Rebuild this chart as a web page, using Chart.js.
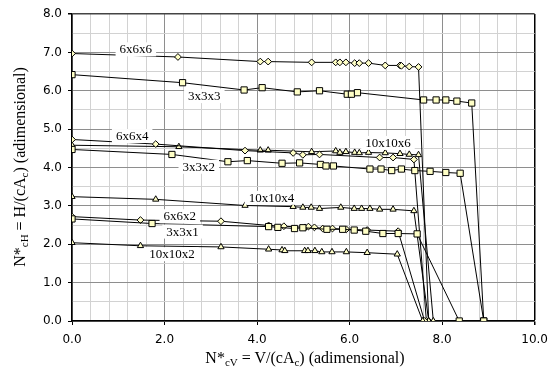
<!DOCTYPE html>
<html>
<head>
<meta charset="utf-8">
<script src="https://cdn.jsdelivr.net/npm/chart.js@4/dist/chart.umd.min.js"></script>
<style>
  html, body { margin: 0; padding: 0; background: #fff; }
  #wrap { position: relative; width: 556px; height: 375px; overflow: hidden; }
  #c { position: absolute; left: 0; top: 0; }
  .ttl { position: absolute; font-family: "Liberation Serif", "Times New Roman", serif; font-size: 16px; color: #000; white-space: nowrap; text-align: center; line-height: 18px; }
  .ttl sub { font-size: 11px; vertical-align: -3px; line-height: 0; }
  #xt { left: 72px; width: 466px; top: 349px; }
  #yt { left: -130px; width: 300px; top: 158px; height: 18px; transform: rotate(-90deg); }
</style>
</head>
<body>
<div id="wrap">
  <canvas id="c" width="556" height="375"></canvas>
  <div class="ttl" id="xt">N*<sub>cV</sub> = V/(cA<sub>c</sub>) (adimensional)</div>
  <div class="ttl" id="yt">N*<sub>cH</sub> = H/(cA<sub>c</sub>) (adimensional)</div>
</div>
<script>
// ---- data ----
const s666x = [0, 2.29, 4.07, 4.24, 5.18, 5.70, 5.79, 5.92, 6.11, 6.21, 6.41, 6.77, 7.09, 7.12, 7.29, 7.49, 7.71];
const s666y = [6.97, 6.88, 6.76, 6.76, 6.74, 6.74, 6.74, 6.74, 6.72, 6.72, 6.72, 6.66, 6.66, 6.65, 6.63, 6.62, 0];

const s333x = [0, 2.39, 3.72, 4.11, 4.87, 5.35, 5.95, 6.04, 6.17, 7.60, 7.87, 8.08, 8.32, 8.64, 8.90];
const s333y = [6.42, 6.21, 6.02, 6.08, 5.97, 6.00, 5.91, 5.91, 5.95, 5.76, 5.76, 5.76, 5.73, 5.68, 0];

const s664x = [0, 1.81, 3.74, 4.78, 4.99, 5.35, 6.65, 6.94, 7.39, 7.66];
const s664y = [4.73, 4.61, 4.44, 4.38, 4.33, 4.34, 4.26, 4.26, 4.21, 0];

const s1066x = [0, 2.31, 4.07, 4.24, 5.18, 5.70, 5.79, 5.92, 6.11, 6.21, 6.41, 6.77, 7.09, 7.29, 7.49, 7.81];
const s1066y = [4.58, 4.54, 4.45, 4.45, 4.41, 4.43, 4.39, 4.41, 4.39, 4.38, 4.39, 4.38, 4.36, 4.34, 4.33, 0];

const s332x = [0, 2.16, 3.37, 3.79, 4.54, 4.92, 5.37, 5.49, 5.65, 6.44, 6.68, 6.91, 7.12, 7.41, 7.74, 8.08, 8.39, 8.90];
const s332y = [4.47, 4.34, 4.15, 4.18, 4.11, 4.12, 4.08, 4.04, 4.04, 3.96, 3.96, 3.92, 3.96, 3.92, 3.90, 3.87, 3.85, 0];

const s1064x = [0, 1.81, 3.74, 4.78, 4.99, 5.17, 5.35, 5.81, 6.10, 6.26, 6.44, 6.65, 6.94, 7.39, 7.71];
const s1064y = [3.24, 3.17, 3.01, 2.98, 2.96, 2.96, 2.93, 2.96, 2.93, 2.93, 2.93, 2.91, 2.91, 2.87, 0];

const s662x = [0, 1.48, 3.22, 4.25, 4.58, 5.04, 5.11, 5.24, 5.42, 5.63, 5.93, 6.38, 7.05, 7.62];
const s662y = [2.72, 2.63, 2.60, 2.49, 2.47, 2.44, 2.46, 2.44, 2.41, 2.41, 2.39, 2.37, 2.34, 0];

const s331x = [0, 1.73, 4.25, 4.45, 4.81, 4.99, 5.51, 5.85, 6.10, 6.35, 6.72, 7.05, 7.46, 8.37];
const s331y = [2.66, 2.54, 2.46, 2.44, 2.41, 2.43, 2.39, 2.39, 2.37, 2.34, 2.28, 2.28, 2.27, 0];

const s1062x = [0, 1.48, 3.22, 4.25, 4.54, 4.60, 5.03, 5.10, 5.25, 5.40, 5.62, 5.93, 6.38, 7.03, 7.58];
const s1062y = [2.04, 1.96, 1.93, 1.87, 1.85, 1.83, 1.83, 1.83, 1.83, 1.80, 1.80, 1.80, 1.78, 1.74, 0];

const xTickLabels = ['0.0', '2.0', '4.0', '6.0', '8.0', '10.0'];
const yTickLabels = ['0.0', '1.0', '2.0', '3.0', '4.0', '5.0', '6.0', '7.0', '8.0'];

// in-plot series labels (text, x, y in data units)
const seriesLabels = ['6x6x6', '3x3x3', '6x6x4', '10x10x6', '3x3x2', '10x10x4', '6x6x2', '3x3x1', '10x10x2'];
const labelX = [1.38, 2.86, 1.30, 6.83, 2.74, 4.31, 2.33, 2.39, 2.16];
const labelY = [7.08, 5.86, 4.82, 4.64, 4.02, 3.21, 2.73, 2.33, 1.74];

// ---- build ----
const X_MIN = 0, X_MAX = 10, X_MINOR = 0.4, X_MAJOR = 2;
const Y_MIN = 0, Y_MAX = 8, Y_MINOR = 0.5, Y_MAJOR = 1;
const FILL = '#FFFFC6';

function pts(xs, ys) { return xs.map((x, i) => ({ x: x, y: ys[i] })); }
function ds(xs, ys, style, r) {
  return {
    data: pts(xs, ys), showLine: true, borderColor: '#000', borderWidth: 1,
    pointStyle: style, pointRadius: r, pointBackgroundColor: FILL,
    pointBorderColor: '#000', pointBorderWidth: 1, pointHoverRadius: r, tension: 0
  };
}
const datasets = [
  ds(s1062x, s1062y, 'triangle', 3.6),
  ds(s331x, s331y, 'rect', 4.4),
  ds(s662x, s662y, 'rectRot', 3.4),
  ds(s1064x, s1064y, 'triangle', 3.6),
  ds(s332x, s332y, 'rect', 4.4),
  ds(s664x, s664y, 'rectRot', 3.4),
  ds(s1066x, s1066y, 'triangle', 3.6),
  ds(s333x, s333y, 'rect', 4.4),
  ds(s666x, s666y, 'rectRot', 3.4)
];

function near(v, step) { const q = v / step; return Math.abs(q - Math.round(q)) < 1e-6; }

const labelPlugin = {
  id: 'seriesLabels',
  afterDatasetsDraw(chart) {
    const c = chart.ctx, xs = chart.scales.x, ys = chart.scales.y;
    c.save();
    c.font = '13px "Liberation Serif", "Times New Roman", serif';
    c.textAlign = 'center';
    c.textBaseline = 'middle';
    seriesLabels.forEach((t, i) => {
      const px = xs.getPixelForValue(labelX[i]);
      const py = ys.getPixelForValue(labelY[i]);
      const w = c.measureText(t).width + 8;
      c.fillStyle = '#fff';
      c.fillRect(px - w / 2, py - 7, w, 14);
      c.fillStyle = '#000';
      c.fillText(t, px, py + 0.5);
    });
    c.restore();
  }
};

new Chart(document.getElementById('c'), {
  type: 'scatter',
  data: { datasets: datasets },
  plugins: [labelPlugin],
  options: {
    responsive: false, animation: false, devicePixelRatio: 1,
    layout: { padding: { top: 14, right: 18, left: 0, bottom: 0 } },
    plugins: { legend: { display: false }, tooltip: { enabled: false }, title: { display: false } },
    scales: {
      x: {
        type: 'linear', min: X_MIN, max: X_MAX,
        afterBuildTicks(scale) {
          const t = [];
          for (let i = 0; i <= Math.round((X_MAX - X_MIN) / X_MINOR); i++) t.push({ value: +(X_MIN + i * X_MINOR).toFixed(2) });
          scale.ticks = t;
        },
        afterFit(scale) { scale.height = 54; },
        ticks: {
          autoSkip: false, maxRotation: 0, padding: 8,
          font: { family: '"DejaVu Sans", sans-serif', size: 12 }, color: '#000',
          callback(v) { return near(v, X_MAJOR) ? xTickLabels[Math.round(v / X_MAJOR)] : ''; }
        },
        grid: {
          drawTicks: true, tickLength: 4,
          color(ctx) {
            const v = ctx.tick ? ctx.tick.value : 0;
            if (Math.abs(v - X_MAX) < 1e-6) return '#000';
            return near(v, X_MAJOR) ? '#8e8e8e' : '#d2d2d2';
          },
          tickColor(ctx) { const v = ctx.tick ? ctx.tick.value : 0; return near(v, X_MAJOR) ? '#000' : 'rgba(0,0,0,0)'; },
          lineWidth(ctx) { const v = ctx.tick ? ctx.tick.value : 0; return Math.abs(v - X_MAX) < 1e-6 ? 1.5 : 1; }
        },
        border: { color: '#000', width: 1.5 }
      },
      y: {
        type: 'linear', min: Y_MIN, max: Y_MAX,
        afterBuildTicks(scale) {
          const t = [];
          for (let i = 0; i <= Math.round((Y_MAX - Y_MIN) / Y_MINOR); i++) t.push({ value: +(Y_MIN + i * Y_MINOR).toFixed(2) });
          scale.ticks = t;
        },
        afterFit(scale) { scale.width = 72; },
        ticks: {
          autoSkip: false, padding: 6,
          font: { family: '"DejaVu Sans", sans-serif', size: 12 }, color: '#000',
          callback(v) { return near(v, Y_MAJOR) ? yTickLabels[Math.round(v / Y_MAJOR)] : ''; }
        },
        grid: {
          drawTicks: true, tickLength: 4,
          color(ctx) {
            const v = ctx.tick ? ctx.tick.value : 0;
            if (Math.abs(v - Y_MAX) < 1e-6) return '#444';
            return near(v, Y_MAJOR) ? '#8e8e8e' : '#d2d2d2';
          },
          tickColor(ctx) { const v = ctx.tick ? ctx.tick.value : 0; return near(v, Y_MAJOR) ? '#000' : 'rgba(0,0,0,0)'; },
          lineWidth(ctx) { const v = ctx.tick ? ctx.tick.value : 0; return Math.abs(v - Y_MAX) < 1e-6 ? 1.5 : 1; }
        },
        border: { color: '#000', width: 1.5 }
      }
    }
  }
});
</script>
</body>
</html>
